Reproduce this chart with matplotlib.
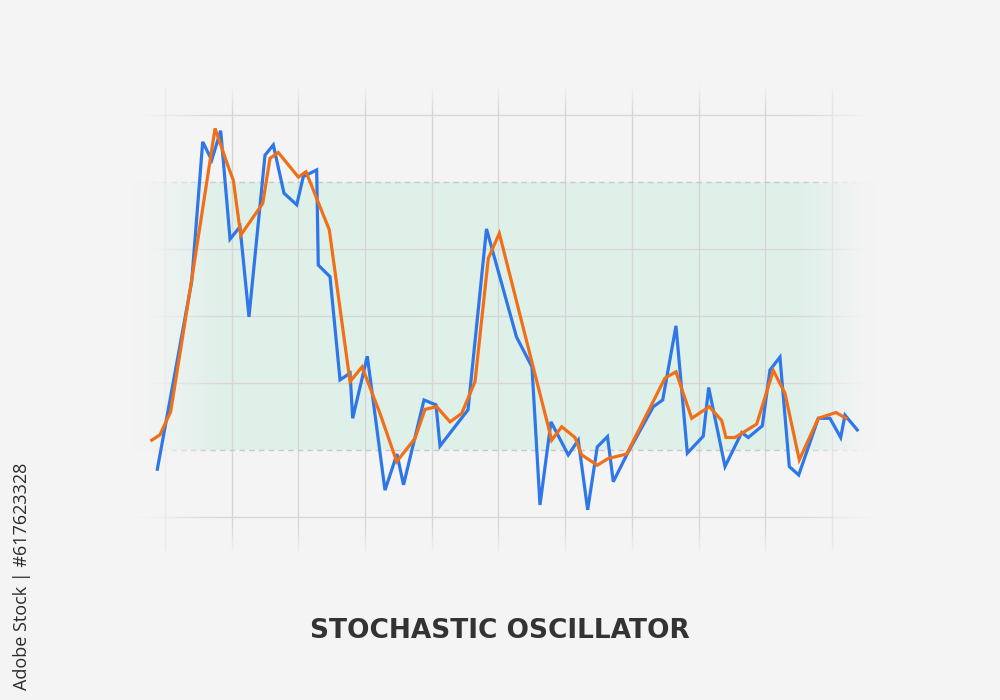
#!/usr/bin/env python3

import matplotlib
matplotlib.use("Agg")
import matplotlib.pyplot as plt
from matplotlib import font_manager
import numpy as np

# %K line (blue) and %D line (orange), x in grid steps, y in oscillator units
k_x = [-0.115, 0.40, 0.565, 0.70, 0.835, 0.975, 1.124, 1.259, 1.499, 1.624,
       1.784, 1.975, 2.073, 2.274, 2.298, 2.474, 2.624, 2.774, 2.814, 3.033,
       3.298, 3.478, 3.576, 3.883, 4.063, 4.123, 4.543, 4.820, 5.270, 5.502,
       5.622, 5.787, 6.046, 6.196, 6.337, 6.481, 6.634, 6.721, 6.946, 7.321,
       7.462, 7.661, 7.831, 8.070, 8.151, 8.396, 8.646, 8.745, 8.955, 9.070,
       9.220, 9.360, 9.501, 9.795, 9.970, 10.130, 10.195, 10.379]
k_y = [15.7, 57.7, 89.0, 84.9, 91.5, 67.2, 70.0, 49.8, 86.0, 88.3,
       77.5, 74.9, 81.2, 82.7, 61.4, 58.8, 35.7, 37.2, 27.1, 41.0,
       11.0, 19.1, 12.2, 31.2, 30.1, 20.9, 29.0, 69.5, 45.3, 38.6,
       7.7, 26.3, 18.9, 22.2, 6.6, 20.7, 23.0, 12.9, 19.6, 29.7,
       31.2, 47.8, 19.3, 23.1, 34.0, 16.3, 23.9, 22.8, 25.4, 37.9,
       40.8, 16.3, 14.4, 27.1, 27.1, 22.8, 27.8, 24.5]

d_x = [-0.199, -0.075, 0.085, 0.40, 0.750, 0.949, 1.024, 1.135, 1.465, 1.574,
       1.699, 1.999, 2.114, 2.463, 2.774, 2.954, 3.223, 3.474, 3.748, 3.898,
       4.073, 4.273, 4.448, 4.648, 4.847, 5.012, 5.798, 5.948, 6.147, 6.247,
       6.481, 6.646, 6.922, 7.496, 7.661, 7.897, 8.160, 8.346, 8.411, 8.546,
       8.871, 9.120, 9.295, 9.510, 9.795, 10.060, 10.210]
d_y = [22.2, 23.4, 28.6, 58.1, 92.0, 83.4, 80.4, 68.1, 75.2, 85.3,
       86.6, 81.1, 82.3, 69.3, 35.3, 38.6, 28.2, 17.4, 22.6, 29.1,
       29.7, 26.3, 28.2, 35.3, 62.9, 68.5, 22.2, 25.2, 22.8, 18.9,
       16.6, 18.1, 19.1, 36.1, 37.5, 27.1, 29.7, 26.6, 22.8, 22.8,
       25.8, 37.8, 32.7, 17.8, 27.1, 28.4, 27.1]

grid_x = list(range(11))
grid_y = [5, 35, 50, 65, 95]
band = (20, 80)

title = "STOCHASTIC OSCILLATOR"
credit = "Adobe Stock | #617623328"

BG = "#f4f4f4"
BAND = "#dff0e9"
GRID = "#d6d6d6"
BLUE = "#2f77e8"
ORANGE = "#f0701a"


def title_family():
    names = {f.name for f in font_manager.fontManager.ttflist}
    if "Liberation Sans Narrow" in names:
        return ["Liberation Sans Narrow", "DejaVu Sans"]
    return ["DejaVu Sans"]


def main():
    fig = plt.figure(figsize=(10, 7), dpi=100, facecolor=BG)
    ax = fig.add_axes([0, 0, 1, 1])
    ax.set_facecolor(BG)
    ax.axis("off")
    xlim = (-2.474, 12.519)
    ylim = (-35.97, 120.75)

    # green band + grid
    ax.fill_between([-0.55, 10.65], band[0], band[1], color=BAND, lw=0, zorder=1)
    for gx in grid_x:
        ax.plot([gx, gx], [-2.4, 101.7], color=GRID, lw=1.0, zorder=2)
    for gy in grid_y:
        ax.plot([-0.5, 10.6], [gy, gy], color=GRID, lw=1.0, zorder=2)
    for gy in band:
        ax.plot([-0.5, 10.6], [gy, gy], color="#c9c9c9", lw=1.0,
                dashes=(4, 3), zorder=2)

    # soft fade of band and grid towards the edges
    w, h = 1000, 700
    px = np.arange(w) + 0.5
    py = np.arange(h) + 0.5
    fx = np.clip(np.maximum((235 - px) / 105, (px - 785) / 95), 0, 1)
    fy = np.clip(np.maximum((118 - py) / 38, (py - 520) / 40), 0, 1)
    alpha = np.maximum(fx[None, :], fy[:, None])
    alpha = alpha * alpha * (3 - 2 * alpha)
    fade = np.zeros((h, w, 4))
    fade[..., :3] = matplotlib.colors.to_rgb(BG)
    fade[..., 3] = alpha
    ax.imshow(fade, extent=(xlim[0], xlim[1], ylim[0], ylim[1]),
              aspect="auto", zorder=3, interpolation="bilinear")

    ax.plot(k_x, k_y, color=BLUE, lw=2.3, zorder=4, solid_joinstyle="miter")
    ax.plot(d_x, d_y, color=ORANGE, lw=2.3, zorder=5, solid_joinstyle="miter")

    ax.set_xlim(*xlim)
    ax.set_ylim(*ylim)

    t = fig.text(0.5, 1 - 631 / 700, title, ha="center", va="center",
                 fontsize=24, fontweight="bold", family=title_family(),
                 color="#333333")
    # size the title so it spans roughly 380 px like the original
    r = fig.canvas.get_renderer()
    t.set_fontsize(24 * 380 / t.get_window_extent(r).width)

    fig.text(22 / 1000, 1 - 463 / 700, credit, rotation=90, ha="center",
             va="top", fontsize=13, family=["Open Sans", "DejaVu Sans"],
             color="#2b2b2b")

    fig.savefig("out.png", dpi=100, facecolor=BG)


if __name__ == "__main__":
    main()
